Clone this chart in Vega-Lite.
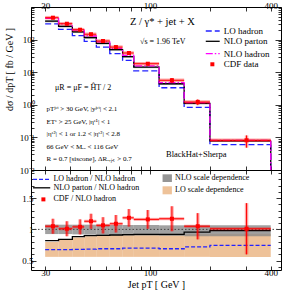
{
 "$schema": "https://vega.github.io/schema/vega-lite/v6.json",
 "padding": {"left": 3, "top": 0, "right": 2, "bottom": 0},
 "spacing": 0,
 "bounds": "flush",
 "config": {
  "font": "Liberation Serif",
  "view": {"stroke": "black", "strokeWidth": 1},
  "axis": {"domain": false, "grid": false, "tickColor": "black", "labelColor": "black", "labelFont": "Liberation Serif", "titleFont": "Liberation Serif", "labelFontSize": 9, "titleFontSize": 10, "titleFontWeight": "normal", "titleColor": "black", "tickWidth": 0.8, "labelOverlap": false, "labelFlush": false},
  "text": {"font": "Liberation Serif", "color": "black"}
 },
 "datasets": {
  "bins": [
   {"i":1,"lo":30,"hi":35,"x":32.8,"LO":302,"NLOp":367,"NLOh":448,"data":470,"dlo":416,"dhi":524,"blo":340,"bhi":391,"rLO":0.675,"rNLOp":0.82,"rdata":1.05,"rdlo":0.93,"rdhi":1.17,"nlo_lo":0.925,"nlo_hi":1.075,"lo_lo":0.56,"lo_hi":0.80},
   {"i":2,"lo":35,"hi":41,"x":38.5,"LO":205,"NLOp":255,"NLOh":304,"data":307,"dlo":270,"dhi":344,"blo":236,"bhi":272,"rLO":0.675,"rNLOp":0.84,"rdata":1.01,"rdlo":0.89,"rdhi":1.13,"nlo_lo":0.925,"nlo_hi":1.075,"lo_lo":0.56,"lo_hi":0.83},
   {"i":3,"lo":41,"hi":47,"x":44.8,"LO":132,"NLOp":172,"NLOh":194,"data":201,"dlo":178,"dhi":224,"blo":159,"bhi":183,"rLO":0.68,"rNLOp":0.885,"rdata":1.04,"rdlo":0.92,"rdhi":1.16,"nlo_lo":0.92,"nlo_hi":1.075,"lo_lo":0.56,"lo_hi":0.87},
   {"i":4,"lo":47,"hi":54,"x":50.8,"LO":88.4,"NLOp":116,"NLOh":129,"data":146,"dlo":131,"dhi":161,"blo":107,"bhi":124,"rLO":0.685,"rNLOp":0.90,"rdata":1.13,"rdlo":1.01,"rdhi":1.25,"nlo_lo":0.915,"nlo_hi":1.075,"lo_lo":0.56,"lo_hi":0.89},
   {"i":5,"lo":54,"hi":63,"x":58.3,"LO":58.7,"NLOp":76.9,"NLOh":85,"data":90.6,"dlo":79.5,"dhi":102,"blo":71.1,"bhi":81.9,"rLO":0.69,"rNLOp":0.905,"rdata":1.065,"rdlo":0.935,"rdhi":1.195,"nlo_lo":0.91,"nlo_hi":1.075,"lo_lo":0.56,"lo_hi":0.90},
   {"i":6,"lo":63,"hi":73,"x":67.6,"LO":37.3,"NLOp":49.1,"NLOh":54,"data":59,"dlo":51.4,"dhi":66.6,"blo":45.4,"bhi":52.3,"rLO":0.69,"rNLOp":0.91,"rdata":1.09,"rdlo":0.95,"rdhi":1.23,"nlo_lo":0.905,"nlo_hi":1.07,"lo_lo":0.56,"lo_hi":0.91},
   {"i":7,"lo":73,"hi":83,"x":78.5,"LO":22.9,"NLOp":29.9,"NLOh":32.7,"data":38.8,"dlo":34.2,"dhi":43.4,"blo":27.7,"bhi":31.8,"rLO":0.70,"rNLOp":0.915,"rdata":1.185,"rdlo":1.045,"rdhi":1.325,"nlo_lo":0.90,"nlo_hi":1.07,"lo_lo":0.56,"lo_hi":0.915},
   {"i":8,"lo":83,"hi":111,"x":97.5,"LO":11.0,"NLOp":14.4,"NLOh":15.7,"data":18.2,"dlo":15.9,"dhi":20.5,"blo":13.3,"bhi":15.3,"rLO":0.70,"rNLOp":0.92,"rdata":1.16,"rdlo":1.01,"rdhi":1.31,"nlo_lo":0.90,"nlo_hi":1.07,"lo_lo":0.56,"lo_hi":0.92},
   {"i":9,"lo":111,"hi":148,"x":128.6,"LO":3.33,"NLOp":4.43,"NLOh":4.82,"data":5.65,"dlo":4.68,"dhi":6.62,"blo":4.10,"bhi":4.72,"rLO":0.69,"rNLOp":0.92,"rdata":1.17,"rdlo":0.97,"rdhi":1.37,"nlo_lo":0.895,"nlo_hi":1.065,"lo_lo":0.56,"lo_hi":0.92},
   {"i":10,"lo":148,"hi":199,"x":173,"LO":0.835,"NLOp":1.11,"NLOh":1.16,"data":1.22,"dlo":0.976,"dhi":1.46,"blo":1.03,"bhi":1.18,"rLO":0.72,"rNLOp":0.955,"rdata":1.05,"rdlo":0.84,"rdhi":1.26,"nlo_lo":0.89,"nlo_hi":1.065,"lo_lo":0.56,"lo_hi":0.925},
   {"i":11,"lo":199,"hi":400,"x":303,"LO":0.060,"NLOp":0.079,"NLOh":0.0806,"data":0.0815,"dlo":0.0484,"dhi":0.115,"blo":0.073,"bhi":0.084,"rLO":0.745,"rNLOp":0.98,"rdata":1.01,"rdlo":0.60,"rdhi":1.42,"nlo_lo":0.89,"nlo_hi":1.065,"lo_lo":0.56,"lo_hi":0.93}
  ]
 },
 "vconcat": [
  {
   "width": 250, "height": 163,
   "data": {"name": "bins"},
   "resolve": {"axis": {"x": "independent", "y": "independent"}},
   "layer": [
    {"mark": {"type": "rect", "color": "#a8a8a8"},
     "encoding": {"x": {"field": "lo", "type": "quantitative", "scale": {"type": "log", "domain": [25.5, 450], "nice": false}, "axis": null}, "x2": {"field": "hi"},
      "y": {"field": "blo", "type": "quantitative", "scale": {"type": "log", "domain": [0.01, 1000], "nice": false}, "axis": null}, "y2": {"field": "bhi"}}},
    {"transform": [{"fold": ["LO", "NLOp", "NLOh"], "as": ["series", "val"]}, {"fold": ["lo", "hi"], "as": ["edge", "ex"]}],
     "mark": {"type": "line", "strokeWidth": 1.3},
     "encoding": {"x": {"field": "ex", "type": "quantitative", "axis": null}, "y": {"field": "val", "type": "quantitative", "axis": null},
      "color": {"field": "series", "type": "nominal", "scale": {"domain": ["LO", "NLOp", "NLOh", "rLO", "rNLOp"], "range": ["#2222ff", "#000000", "#ff00ff", "#2222ff", "#000000"]}, "legend": null},
      "strokeDash": {"field": "series", "type": "nominal", "scale": {"domain": ["LO", "NLOp", "NLOh", "rLO", "rNLOp"], "range": [[6, 3], [1, 0], [7, 2, 1.5, 2], [4, 2], [1, 0]]}, "legend": null},
      "order": [{"field": "i", "type": "quantitative"}, {"field": "edge", "type": "ordinal", "sort": "descending"}]}},
    {"transform": [{"filter": "datum.i == 11"}, {"fold": ["LO", "NLOp", "NLOh"], "as": ["series", "val"]}],
     "mark": {"type": "rule", "strokeWidth": 1.3},
     "encoding": {"x": {"field": "hi", "type": "quantitative", "axis": null}, "y": {"field": "val", "type": "quantitative", "axis": null}, "y2": {"datum": 0.01},
      "color": {"field": "series", "type": "nominal", "legend": null}, "strokeDash": {"field": "series", "type": "nominal", "legend": null}}},
    {"mark": {"type": "rule", "color": "#ff0000", "opacity": 0.35, "strokeWidth": 3.5},
     "encoding": {"x": {"field": "x", "type": "quantitative", "axis": null}, "y": {"field": "dlo", "type": "quantitative", "axis": null}, "y2": {"field": "dhi"}}},
    {"mark": {"type": "rule", "color": "#ff0000", "opacity": 0.35, "strokeWidth": 3.5},
     "encoding": {"x": {"field": "lo", "type": "quantitative", "axis": null}, "x2": {"field": "hi"}, "y": {"field": "data", "type": "quantitative", "axis": null}}},
    {"mark": {"type": "rule", "color": "#ff0000", "strokeWidth": 1},
     "encoding": {"x": {"field": "x", "type": "quantitative", "axis": null}, "y": {"field": "dlo", "type": "quantitative", "axis": null}, "y2": {"field": "dhi"}}},
    {"mark": {"type": "rule", "color": "#ff0000", "strokeWidth": 1},
     "encoding": {"x": {"field": "lo", "type": "quantitative", "axis": null}, "x2": {"field": "hi"}, "y": {"field": "data", "type": "quantitative", "axis": null}}},
    {"mark": {"type": "square", "color": "#ff0000", "filled": true, "size": 16, "opacity": 1},
     "encoding": {"x": {"field": "x", "type": "quantitative", "axis": null}, "y": {"field": "data", "type": "quantitative", "axis": null}}},
    {"data": {"values": [{}]}, "mark": {"type": "text", "text": "Z / γ* + jet + X", "align": "center", "baseline": "middle", "fontSize": 10.5},
     "encoding": {"x": {"datum": 115.3, "type": "quantitative", "axis": null}, "y": {"datum": 346.9, "type": "quantitative", "axis": null}}},
    {"data": {"values": [{}]}, "mark": {"type": "text", "text": "√s  =  1.96 TeV", "align": "center", "baseline": "middle", "fontSize": 8},
     "encoding": {"x": {"datum": 115.8, "type": "quantitative", "axis": null}, "y": {"datum": 84.3, "type": "quantitative", "axis": null}}},
    {"data": {"values": [{}]}, "mark": {"type": "text", "text": "μR = μF = ĤT / 2", "align": "left", "baseline": "middle", "fontSize": 8},
     "encoding": {"x": {"datum": 33.6, "type": "quantitative", "axis": null}, "y": {"datum": 3.35, "type": "quantitative", "axis": null}}},
    {"data": {"values": [{}]}, "mark": {"type": "text", "text": "pTʲᵉᵗ > 30 GeV,  |yʲᵉᵗ| < 2.1", "align": "left", "baseline": "middle", "fontSize": 7},
     "encoding": {"x": {"datum": 30.5, "type": "quantitative", "axis": null}, "y": {"datum": 0.743, "type": "quantitative", "axis": null}}},
    {"data": {"values": [{}]}, "mark": {"type": "text", "text": "ETᵉ  > 25 GeV,  |ηᵉ¹|  <  1", "align": "left", "baseline": "middle", "fontSize": 7},
     "encoding": {"x": {"datum": 30.5, "type": "quantitative", "axis": null}, "y": {"datum": 0.296, "type": "quantitative", "axis": null}}},
    {"data": {"values": [{}]}, "mark": {"type": "text", "text": "|ηᵉ²| < 1  or  1.2 < |ηᵉ²| < 2.8", "align": "left", "baseline": "middle", "fontSize": 7},
     "encoding": {"x": {"datum": 30.5, "type": "quantitative", "axis": null}, "y": {"datum": 0.123, "type": "quantitative", "axis": null}}},
    {"data": {"values": [{}]}, "mark": {"type": "text", "text": "66 GeV < Mₑₑ < 116 GeV", "align": "left", "baseline": "middle", "fontSize": 7},
     "encoding": {"x": {"datum": 30.5, "type": "quantitative", "axis": null}, "y": {"datum": 0.0508, "type": "quantitative", "axis": null}}},
    {"data": {"values": [{}]}, "mark": {"type": "text", "text": "R  =  0.7  [siscone],  ΔRₑ,ⱼₑₜ > 0.7", "align": "left", "baseline": "middle", "fontSize": 7},
     "encoding": {"x": {"datum": 30.5, "type": "quantitative", "axis": null}, "y": {"datum": 0.021, "type": "quantitative", "axis": null}}},
    {"data": {"values": [{}]}, "mark": {"type": "text", "text": "BlackHat+Sherpa", "align": "center", "baseline": "middle", "fontSize": 8.5},
     "encoding": {"x": {"datum": 170.1, "type": "quantitative", "axis": null}, "y": {"datum": 0.0316, "type": "quantitative", "axis": null}}},
    {"data": {"values": [{}]}, "mark": {"type": "rule", "color": "#2222ff", "strokeDash": [6, 3], "strokeWidth": 1.5},
     "encoding": {"x": {"datum": 189.7, "type": "quantitative", "axis": null}, "x2": {"datum": 222.6}, "y": {"datum": 183.7, "type": "quantitative", "axis": null}}},
    {"data": {"values": [{}]}, "mark": {"type": "rule", "color": "#000000", "strokeWidth": 1.3},
     "encoding": {"x": {"datum": 189.7, "type": "quantitative", "axis": null}, "x2": {"datum": 222.6}, "y": {"datum": 88.7, "type": "quantitative", "axis": null}}},
    {"data": {"values": [{}]}, "mark": {"type": "rule", "color": "#ff00ff", "strokeDash": [7, 2, 1.5, 2], "strokeWidth": 1.3},
     "encoding": {"x": {"datum": 189.7, "type": "quantitative", "axis": null}, "x2": {"datum": 222.6}, "y": {"datum": 36.9, "type": "quantitative", "axis": null}}},
    {"data": {"values": [{}]}, "mark": {"type": "square", "color": "#ff0000", "filled": true, "size": 16, "opacity": 1},
     "encoding": {"x": {"datum": 204.6, "type": "quantitative", "axis": null}, "y": {"datum": 17.5, "type": "quantitative", "axis": null}}},
    {"data": {"values": [{}]}, "mark": {"type": "text", "text": "LO hadron", "align": "left", "baseline": "middle", "fontSize": 9},
     "encoding": {"x": {"datum": 233.4, "type": "quantitative", "axis": null}, "y": {"datum": 183.7, "type": "quantitative", "axis": null}}},
    {"data": {"values": [{}]}, "mark": {"type": "text", "text": "NLO parton", "align": "left", "baseline": "middle", "fontSize": 9},
     "encoding": {"x": {"datum": 233.4, "type": "quantitative", "axis": null}, "y": {"datum": 88.7, "type": "quantitative", "axis": null}}},
    {"data": {"values": [{}]}, "mark": {"type": "text", "text": "NLO hadron", "align": "left", "baseline": "middle", "fontSize": 9},
     "encoding": {"x": {"datum": 233.4, "type": "quantitative", "axis": null}, "y": {"datum": 36.9, "type": "quantitative", "axis": null}}},
    {"data": {"values": [{}]}, "mark": {"type": "text", "text": "CDF data", "align": "left", "baseline": "middle", "fontSize": 9},
     "encoding": {"x": {"datum": 233.4, "type": "quantitative", "axis": null}, "y": {"datum": 17.5, "type": "quantitative", "axis": null}}},
    {"mark": {"type": "point", "opacity": 0},
     "encoding": {"x": {"field": "lo", "type": "quantitative", "axis": {"orient": "top", "values": [30, 40, 50, 60, 70, 80, 90, 100, 200, 300, 400], "labelExpr": "datum.value == 30 || datum.value == 100 || datum.value == 400 ? format(datum.value, 'd') : ''", "tickSize": -4, "labelPadding": 1, "title": null}},
      "y": {"field": "data", "type": "quantitative", "axis": null}}},
    {"mark": {"type": "point", "opacity": 0},
     "encoding": {"x": {"field": "lo", "type": "quantitative", "axis": {"orient": "bottom", "values": [30, 40, 50, 60, 70, 80, 90, 100, 200, 300, 400], "labels": false, "tickSize": -4, "title": null}},
      "y": {"field": "data", "type": "quantitative", "axis": null}}},
    {"mark": {"type": "point", "opacity": 0},
     "encoding": {"x": {"field": "lo", "type": "quantitative", "axis": null},
      "y": {"field": "data", "type": "quantitative", "axis": {"orient": "left", "values": [0.01, 0.1, 1, 10, 100, 1000], "labelExpr": "datum.value == 0.01 ? '10⁻²' : datum.value == 0.1 ? '10⁻¹' : datum.value == 1 ? '10⁰' : datum.value == 10 ? '10¹' : datum.value == 100 ? '10²' : ''", "tickSize": -6, "labelPadding": 3, "title": "dσ / dpT   [ fb / GeV ]", "titleX": -17, "titleY": 62, "titleFontSize": 10}}}},
    {"mark": {"type": "point", "opacity": 0},
     "encoding": {"x": {"field": "lo", "type": "quantitative", "axis": null},
      "y": {"field": "data", "type": "quantitative", "axis": {"orient": "left", "values": [0.02, 0.03, 0.04, 0.05, 0.06, 0.07, 0.08, 0.09, 0.2, 0.3, 0.4, 0.5, 0.6, 0.7, 0.8, 0.9, 2, 3, 4, 5, 6, 7, 8, 9, 20, 30, 40, 50, 60, 70, 80, 90, 200, 300, 400, 500, 600, 700, 800, 900], "labels": false, "tickSize": -3, "title": null}}}},
    {"mark": {"type": "point", "opacity": 0},
     "encoding": {"x": {"field": "lo", "type": "quantitative", "axis": null},
      "y": {"field": "data", "type": "quantitative", "axis": {"orient": "right", "values": [0.01, 0.1, 1, 10, 100, 1000], "labels": false, "tickSize": -6, "title": null}}}},
    {"mark": {"type": "point", "opacity": 0},
     "encoding": {"x": {"field": "lo", "type": "quantitative", "axis": null},
      "y": {"field": "data", "type": "quantitative", "axis": {"orient": "right", "values": [0.02, 0.03, 0.04, 0.05, 0.06, 0.07, 0.08, 0.09, 0.2, 0.3, 0.4, 0.5, 0.6, 0.7, 0.8, 0.9, 2, 3, 4, 5, 6, 7, 8, 9, 20, 30, 40, 50, 60, 70, 80, 90, 200, 300, 400, 500, 600, 700, 800, 900], "labels": false, "tickSize": -3, "title": null}}}}
   ]
  },
  {
   "width": 250, "height": 100,
   "data": {"name": "bins"},
   "resolve": {"axis": {"x": "independent", "y": "independent"}},
   "layer": [
    {"mark": {"type": "rect", "color": "#e39a55", "opacity": 0.6},
     "encoding": {"x": {"field": "lo", "type": "quantitative", "scale": {"type": "log", "domain": [25.5, 450], "nice": false}, "axis": null}, "x2": {"field": "hi"},
      "y": {"field": "lo_lo", "type": "quantitative", "scale": {"domain": [0.35, 1.95], "nice": false, "zero": false}, "axis": null}, "y2": {"field": "lo_hi"}}},
    {"mark": {"type": "rect", "color": "#8a8a8a", "opacity": 0.8},
     "encoding": {"x": {"field": "lo", "type": "quantitative", "axis": null}, "x2": {"field": "hi"}, "y": {"field": "nlo_lo", "type": "quantitative", "axis": null}, "y2": {"field": "nlo_hi"}}},
    {"data": {"values": [{}]}, "mark": {"type": "rule", "color": "#444444", "strokeDash": [1.5, 2], "strokeWidth": 1},
     "encoding": {"x": {"datum": 25.5, "type": "quantitative", "axis": null}, "x2": {"datum": 450}, "y": {"datum": 1, "type": "quantitative", "axis": null}}},
    {"transform": [{"fold": ["rLO", "rNLOp"], "as": ["series", "val"]}, {"fold": ["lo", "hi"], "as": ["edge", "ex"]}],
     "mark": {"type": "line", "strokeWidth": 1.3},
     "encoding": {"x": {"field": "ex", "type": "quantitative", "axis": null}, "y": {"field": "val", "type": "quantitative", "axis": null},
      "color": {"field": "series", "type": "nominal", "legend": null},
      "strokeDash": {"field": "series", "type": "nominal", "legend": null},
      "order": [{"field": "i", "type": "quantitative"}, {"field": "edge", "type": "ordinal", "sort": "descending"}]}},
    {"mark": {"type": "rule", "color": "#ff0000", "opacity": 0.35, "strokeWidth": 3.5},
     "encoding": {"x": {"field": "x", "type": "quantitative", "axis": null}, "y": {"field": "rdlo", "type": "quantitative", "axis": null}, "y2": {"field": "rdhi"}}},
    {"mark": {"type": "rule", "color": "#ff0000", "opacity": 0.35, "strokeWidth": 3},
     "encoding": {"x": {"field": "lo", "type": "quantitative", "axis": null}, "x2": {"field": "hi"}, "y": {"field": "rdata", "type": "quantitative", "axis": null}}},
    {"mark": {"type": "rule", "color": "#ff0000", "strokeWidth": 1},
     "encoding": {"x": {"field": "x", "type": "quantitative", "axis": null}, "y": {"field": "rdlo", "type": "quantitative", "axis": null}, "y2": {"field": "rdhi"}}},
    {"mark": {"type": "rule", "color": "#ff0000", "strokeWidth": 1},
     "encoding": {"x": {"field": "lo", "type": "quantitative", "axis": null}, "x2": {"field": "hi"}, "y": {"field": "rdata", "type": "quantitative", "axis": null}}},
    {"mark": {"type": "square", "color": "#ff0000", "filled": true, "size": 16, "opacity": 1},
     "encoding": {"x": {"field": "x", "type": "quantitative", "axis": null}, "y": {"field": "rdata", "type": "quantitative", "axis": null}}},
    {"data": {"values": [{}]}, "mark": {"type": "rule", "color": "#2222ff", "strokeDash": [4, 2], "strokeWidth": 1.3},
     "encoding": {"x": {"datum": 26.1, "type": "quantitative", "axis": null}, "x2": {"datum": 31.8}, "y": {"datum": 1.8, "type": "quantitative", "axis": null}}},
    {"data": {"values": [{}]}, "mark": {"type": "rule", "color": "#000000", "strokeWidth": 1.3},
     "encoding": {"x": {"datum": 26.1, "type": "quantitative", "axis": null}, "x2": {"datum": 31.8}, "y": {"datum": 1.665, "type": "quantitative", "axis": null}}},
    {"data": {"values": [{}]}, "mark": {"type": "square", "color": "#ff0000", "filled": true, "size": 16, "opacity": 1},
     "encoding": {"x": {"datum": 29.4, "type": "quantitative", "axis": null}, "y": {"datum": 1.48, "type": "quantitative", "axis": null}}},
    {"data": {"values": [{}]}, "mark": {"type": "text", "text": "LO hadron / NLO hadron", "align": "left", "baseline": "middle", "fontSize": 8},
     "encoding": {"x": {"datum": 33.0, "type": "quantitative", "axis": null}, "y": {"datum": 1.8, "type": "quantitative", "axis": null}}},
    {"data": {"values": [{}]}, "mark": {"type": "text", "text": "NLO parton / NLO hadron", "align": "left", "baseline": "middle", "fontSize": 8},
     "encoding": {"x": {"datum": 33.0, "type": "quantitative", "axis": null}, "y": {"datum": 1.665, "type": "quantitative", "axis": null}}},
    {"data": {"values": [{}]}, "mark": {"type": "text", "text": "CDF / NLO hadron", "align": "left", "baseline": "middle", "fontSize": 8},
     "encoding": {"x": {"datum": 33.0, "type": "quantitative", "axis": null}, "y": {"datum": 1.48, "type": "quantitative", "axis": null}}},
    {"data": {"values": [{}]}, "mark": {"type": "rect", "color": "#8a8a8a", "opacity": 0.9},
     "encoding": {"x": {"datum": 115.5, "type": "quantitative", "axis": null}, "x2": {"datum": 128.6}, "y": {"datum": 1.758, "type": "quantitative", "axis": null}, "y2": {"datum": 1.881}}},
    {"data": {"values": [{}]}, "mark": {"type": "rect", "color": "#e39a55", "opacity": 0.6},
     "encoding": {"x": {"datum": 115.5, "type": "quantitative", "axis": null}, "x2": {"datum": 128.6}, "y": {"datum": 1.561, "type": "quantitative", "axis": null}, "y2": {"datum": 1.689}}},
    {"data": {"values": [{}]}, "mark": {"type": "text", "text": "NLO scale dependence", "align": "left", "baseline": "middle", "fontSize": 8},
     "encoding": {"x": {"datum": 133.4, "type": "quantitative", "axis": null}, "y": {"datum": 1.822, "type": "quantitative", "axis": null}}},
    {"data": {"values": [{}]}, "mark": {"type": "text", "text": "LO scale dependence", "align": "left", "baseline": "middle", "fontSize": 8},
     "encoding": {"x": {"datum": 133.4, "type": "quantitative", "axis": null}, "y": {"datum": 1.625, "type": "quantitative", "axis": null}}},
    {"mark": {"type": "point", "opacity": 0},
     "encoding": {"x": {"field": "lo", "type": "quantitative", "axis": {"orient": "bottom", "values": [30, 40, 50, 60, 70, 80, 90, 100, 200, 300, 400], "labelExpr": "datum.value == 30 || datum.value == 100 || datum.value == 400 ? format(datum.value, 'd') : ''", "tickSize": -4, "labelPadding": 2, "title": "Jet  pT  [ GeV ]", "titlePadding": 2}},
      "y": {"field": "rdata", "type": "quantitative", "axis": null}}},
    {"mark": {"type": "point", "opacity": 0},
     "encoding": {"x": {"field": "lo", "type": "quantitative", "axis": {"orient": "top", "values": [30, 40, 50, 60, 70, 80, 90, 100, 200, 300, 400], "labels": false, "tickSize": -4, "title": null}},
      "y": {"field": "rdata", "type": "quantitative", "axis": null}}},
    {"mark": {"type": "point", "opacity": 0},
     "encoding": {"x": {"field": "lo", "type": "quantitative", "axis": null},
      "y": {"field": "rdata", "type": "quantitative", "axis": {"orient": "left", "values": [0.5, 1, 1.5], "labelExpr": "datum.value == 1 ? '1' : format(datum.value, '.1f')", "tickSize": -5, "labelPadding": 3, "title": null}}}},
    {"mark": {"type": "point", "opacity": 0},
     "encoding": {"x": {"field": "lo", "type": "quantitative", "axis": null},
      "y": {"field": "rdata", "type": "quantitative", "axis": {"orient": "left", "values": [0.4, 0.6, 0.7, 0.8, 0.9, 1.1, 1.2, 1.3, 1.4, 1.6, 1.7, 1.8, 1.9], "labels": false, "tickSize": -3, "title": null}}}},
    {"mark": {"type": "point", "opacity": 0},
     "encoding": {"x": {"field": "lo", "type": "quantitative", "axis": null},
      "y": {"field": "rdata", "type": "quantitative", "axis": {"orient": "right", "values": [0.5, 1, 1.5], "labels": false, "tickSize": -5, "title": null}}}},
    {"mark": {"type": "point", "opacity": 0},
     "encoding": {"x": {"field": "lo", "type": "quantitative", "axis": null},
      "y": {"field": "rdata", "type": "quantitative", "axis": {"orient": "right", "values": [0.4, 0.6, 0.7, 0.8, 0.9, 1.1, 1.2, 1.3, 1.4, 1.6, 1.7, 1.8, 1.9], "labels": false, "tickSize": -3, "title": null}}}}
   ]
  }
 ]
}
